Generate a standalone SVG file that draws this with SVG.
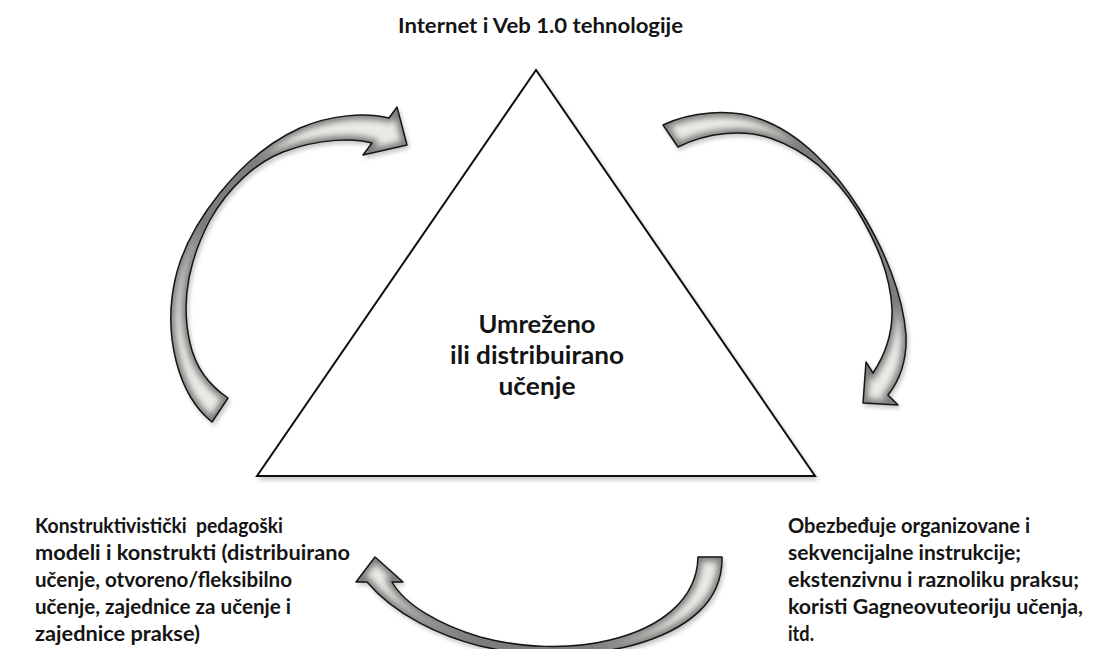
<svg xmlns="http://www.w3.org/2000/svg" xmlns:xlink="http://www.w3.org/1999/xlink" width="1099" height="649" viewBox="0 0 1099 649">
<style>
.t{font-family:Lato,'Liberation Sans','DejaVu Sans',sans-serif;font-weight:bold;fill:#141414;}
.side{font-size:21.5px;}
.ttl{font-size:21px;}
.ctr{font-size:24px;text-anchor:middle;}
.arrowFill{fill:#ebebe6;}
.arrowEdge{fill:none;stroke:#7c7c7a;stroke-width:9;filter:url(#blur);}
.arrowLine{fill:none;stroke:#151515;stroke-width:1.5;stroke-linejoin:round;}
.shadow{filter:url(#shadow);}
</style>
<defs>
<filter id="blur" x="-20%" y="-20%" width="140%" height="140%"><feGaussianBlur stdDeviation="3"/></filter>
<filter id="shadow" x="-10%" y="-10%" width="130%" height="130%"><feGaussianBlur in="SourceAlpha" stdDeviation="2"/><feOffset dx="2" dy="3"/><feComponentTransfer><feFuncA type="linear" slope="0.22"/></feComponentTransfer><feMerge><feMergeNode/><feMergeNode in="SourceGraphic"/></feMerge></filter>
<path id="aLeft" d="M212,422 C178,395 163,335 175,280 C187,225 240,155 300,128 C330,115 365,112 389,118 L397,107 L407,145 L363,155 L372,143 C355,138 320,138 283,152 C255,163 228,188 210,220 C190,258 180,300 190,343 C196,370 210,386 228,398 Z"/>
<path id="aRight" d="M663,125 C690,112 730,108 760,119 C800,133 835,170 860,210 C885,250 903,295 906,335 C907,360 900,380 888,395 L898,405 L863,403 L866,362 L873,373 C883,358 893,335 892,308 C890,275 878,245 857,210 C835,175 805,150 770,138 C745,130 710,131 678,147 Z"/>
<path id="aBottom" d="M722,557 C723,600 690,630 630,646 C590,656 530,658 480,646 C440,636 395,615 367,582 L356,582 L375,557 L403,582 L392,582 C405,605 440,625 480,637 C520,648 570,650 610,640 C660,628 697,600 698,557 Z"/>
<clipPath id="cLeft"><use xlink:href="#aLeft"/></clipPath>
<clipPath id="cRight"><use xlink:href="#aRight"/></clipPath>
<clipPath id="cBottom"><use xlink:href="#aBottom"/></clipPath>
</defs>
<rect x="0" y="0" width="1099" height="649" fill="#fff"/>

<g id="node-title">
<text class="t ttl" x="398" y="33" textLength="285" lengthAdjust="spacingAndGlyphs">Internet i Veb 1.0 tehnologije</text>
</g>

<g id="node-triangle">
<polygon class="shadow" points="536,70 257,476 815,476" fill="#fff" stroke="#111" stroke-width="2" stroke-linejoin="miter"/>
<text class="t ctr" x="537" y="333" textLength="117" lengthAdjust="spacingAndGlyphs">Umreženo</text>
<text class="t ctr" x="537" y="364" textLength="174" lengthAdjust="spacingAndGlyphs">ili distribuirano</text>
<text class="t ctr" x="537" y="395" textLength="77" lengthAdjust="spacingAndGlyphs">učenje</text>
</g>

<g id="node-left">
<text class="t side" x="35" y="533" textLength="248" lengthAdjust="spacingAndGlyphs" xml:space="preserve">Konstruktivistički  pedagoški</text>
<text class="t side" x="35" y="560" textLength="315" lengthAdjust="spacingAndGlyphs">modeli i konstrukti (distribuirano</text>
<text class="t side" x="35" y="587" textLength="257" lengthAdjust="spacingAndGlyphs">učenje, otvoreno/fleksibilno</text>
<text class="t side" x="35" y="614" textLength="256" lengthAdjust="spacingAndGlyphs">učenje, zajednice za učenje i</text>
<text class="t side" x="35" y="641" textLength="165" lengthAdjust="spacingAndGlyphs">zajednice prakse)</text>
</g>

<g id="node-right">
<text class="t side" x="788" y="533" textLength="242" lengthAdjust="spacingAndGlyphs">Obezbeđuje organizovane i</text>
<text class="t side" x="788" y="560" textLength="233" lengthAdjust="spacingAndGlyphs">sekvencijalne instrukcije;</text>
<text class="t side" x="788" y="587" textLength="291" lengthAdjust="spacingAndGlyphs">ekstenzivnu i raznoliku praksu;</text>
<text class="t side" x="788" y="614" textLength="295" lengthAdjust="spacingAndGlyphs">koristi Gagneovuteoriju učenja,</text>
<text class="t side" x="788" y="641" textLength="26" lengthAdjust="spacingAndGlyphs">itd.</text>
</g>

<g id="connectors">
<g id="arrow-left" class="shadow">
<use xlink:href="#aLeft" class="arrowFill"/>
<g clip-path="url(#cLeft)"><use xlink:href="#aLeft" class="arrowEdge"/></g>
<use xlink:href="#aLeft" class="arrowLine"/>
</g>
<g id="arrow-right" class="shadow">
<use xlink:href="#aRight" class="arrowFill"/>
<g clip-path="url(#cRight)"><use xlink:href="#aRight" class="arrowEdge"/></g>
<use xlink:href="#aRight" class="arrowLine"/>
</g>
<g id="arrow-bottom" class="shadow">
<use xlink:href="#aBottom" class="arrowFill"/>
<g clip-path="url(#cBottom)"><use xlink:href="#aBottom" class="arrowEdge"/></g>
<use xlink:href="#aBottom" class="arrowLine"/>
</g>
</g>
</svg>
